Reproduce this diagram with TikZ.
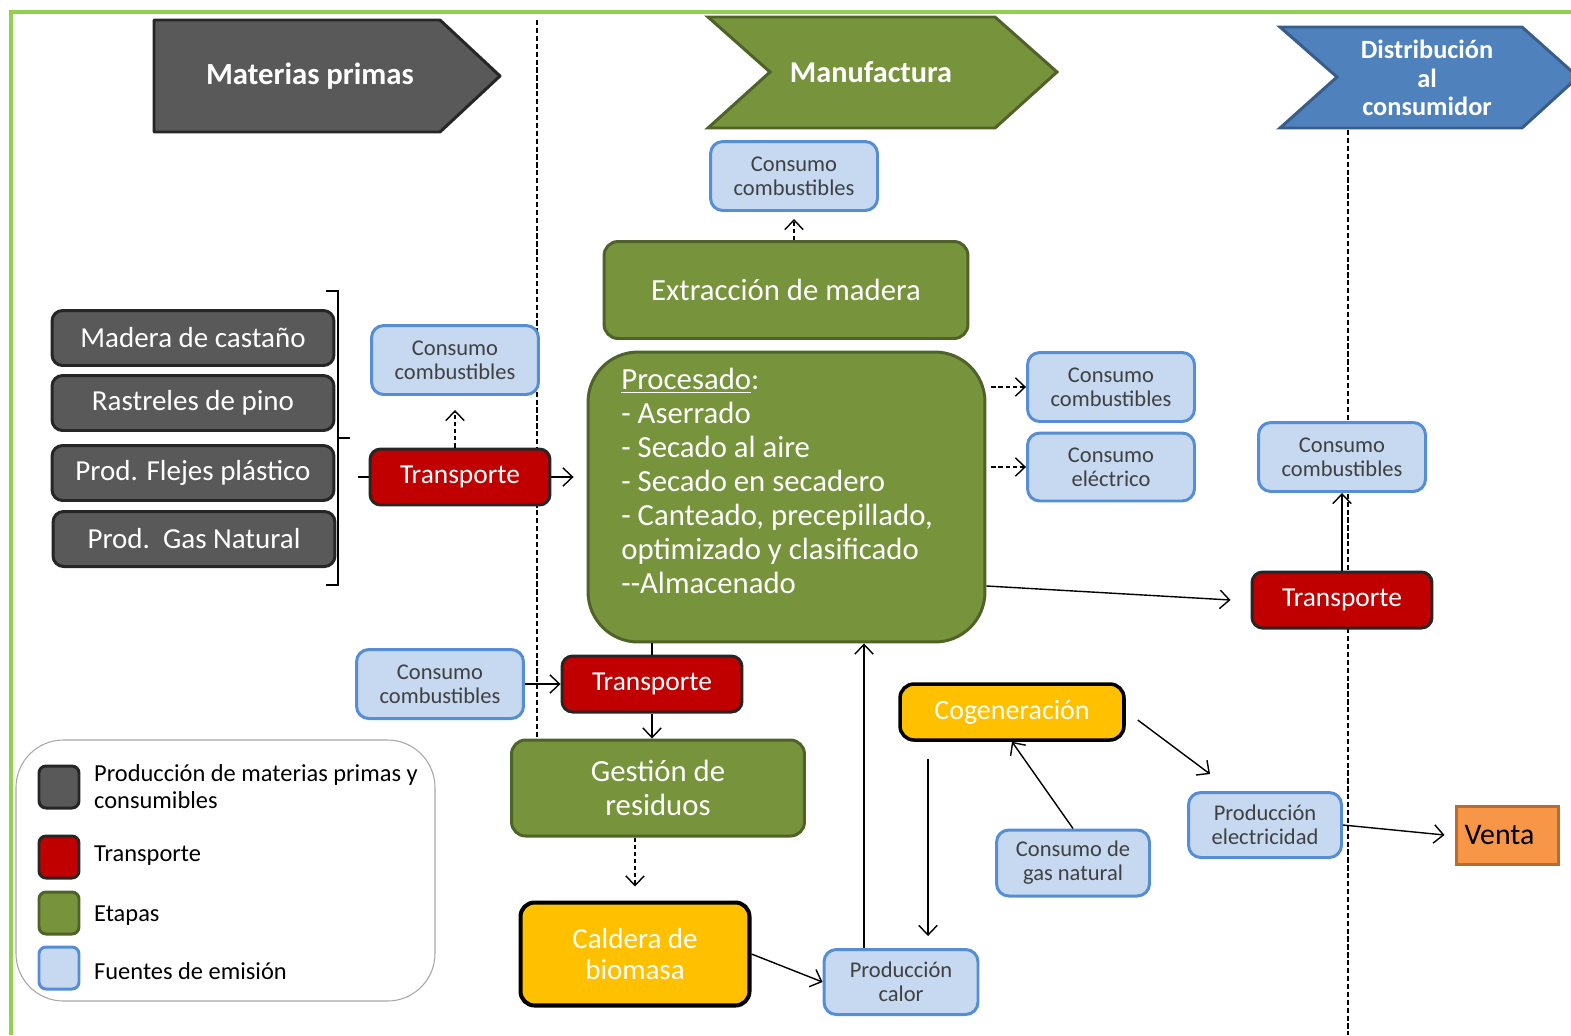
\documentclass[tikz,border=0pt]{standalone}
\usepackage{fontspec}
\setmainfont{Carlito}
\usetikzlibrary{arrows.meta}

\definecolor{framegreen}{HTML}{92D050}
\definecolor{mpgray}{HTML}{595959}
\definecolor{mpborder}{HTML}{262626}
\definecolor{etgreen}{HTML}{77933C}
\definecolor{etborder}{HTML}{4F6228}
\definecolor{distblue}{HTML}{4F81BD}
\definecolor{distborder}{HTML}{385D8A}
\definecolor{trred}{HTML}{C00000}
\definecolor{emfill}{HTML}{C6D9F1}
\definecolor{emborder}{HTML}{558ED5}
\definecolor{emtext}{HTML}{404040}
\definecolor{cgyellow}{HTML}{FFC000}
\definecolor{vorange}{HTML}{F79646}
\definecolor{vborder}{HTML}{B66D31}

\begin{document}
\begin{tikzpicture}[x=0.02cm, y=-0.02cm,
    matbox/.style={draw=mpborder, fill=mpgray, line width=1.7pt, rounded corners=6pt, text=white,
      font=\fontsize{16.5}{18}\selectfont, minimum width=5.64cm, minimum height=1.1cm},
    transbox/.style={draw=mpborder, fill=trred, line width=1.7pt, rounded corners=6pt, text=white,
      font=\fontsize{15.6}{17}\selectfont, minimum width=3.6cm, minimum height=1.12cm},
    etapa/.style={draw=etborder, fill=etgreen, line width=1.7pt, rounded corners=8pt, text=white,
      align=center, font=\fontsize{17.5}{19.3}\selectfont},
    emis/.style={draw=emborder, fill=emfill, line width=1.7pt, rounded corners=7pt, text=emtext,
      align=center, font=\fontsize{12.8}{13.6}\selectfont, minimum width=3.34cm, minimum height=1.38cm},
    calor/.style={draw=black, fill=cgyellow, line width=2pt, rounded corners=8pt, text=white, align=center},
    flow/.style={-{Straight Barb[length=5.5pt,width=10.5pt]}, line width=0.8pt},
    emit/.style={flow, dash pattern=on 2.5pt off 1.5pt},
    lane/.style={dash pattern=on 3pt off 1.5pt, line width=0.7pt},
    header/.style={text=white, font=\bfseries\fontsize{17.5}{19.3}\selectfont, align=center},
    leg/.style={anchor=west, align=left, font=\fontsize{13.9}{15.3}\selectfont},
    legbox/.style={minimum width=0.8cm, minimum height=0.84cm, rounded corners=4pt}
  ]
  \useasboundingbox (0,0) rectangle (1571,1035);

  % frame and lanes
  \draw[framegreen, line width=2.8pt] (11,1035) -- (11,12) -- (1571,12);
  \draw[lane] (537,20) -- (537,738);
  \draw[lane] (1348,130) -- (1348,1035);

  % stage headers
  \draw[fill=mpgray, draw=mpborder, line width=1.7pt, line join=round]
    (154,20) -- (440,20) -- (500,76) -- (440,132) -- (154,132) -- cycle;
  \node[header] (hmat) at (310,76) {Materias primas};
  \draw[fill=etgreen, draw=etborder, line width=1.7pt]
    (708,17) -- (995,17) -- (1057,72) -- (995,128) -- (708,128) -- (770,72) -- cycle;
  \node[header, font=\bfseries\fontsize{17.2}{19}\selectfont] (hman) at (871,72) {Manufactura};
  \draw[fill=distblue, draw=distborder, line width=1.7pt]
    (1280,27) -- (1522,27) -- (1578,77) -- (1522,128) -- (1280,128) -- (1337,77) -- cycle;
  \node[header, font=\bfseries\fontsize{15}{16.4}\selectfont] (hdis) at (1427,78) {Distribución\\al\\consumidor};

  % raw materials
  \node[matbox] (madera) at (193,338) {Madera de castaño};
  \node[matbox] (pino) at (193,403) {Rastreles de pino};
  \node[matbox] (flejes) at (193,473) {Prod. Flejes plástico};
  \node[matbox] (gas) at (194,539) {Prod.\ \ Gas Natural};
  \draw[line width=0.8pt] (326,291) -- (338,291) -- (338,585) -- (326,585);
  \draw[line width=0.8pt] (338,438) -- (350,438);

  % manufacturing
  \node[transbox] (tr1) at (460,477) {Transporte};
  \node[emis] (cons1) at (455,360) {Consumo\\combustibles};
  \node[emis] (ctop) at (794,176) {Consumo\\combustibles};
  \node[etapa, minimum width=7.28cm, minimum height=1.94cm] (extr) at (786,290) {Extracción de madera};
  \node[etapa, rounded corners=1cm, minimum width=7.94cm, minimum height=5.8cm] (proc) at (786.5,497) {};
  \node[anchor=north west, inner sep=0pt, align=left, text=white,
    font=\fontsize{17.5}{19.3}\selectfont] (proctxt) at (621,368)
    {\underline{Procesado}:\\- Aserrado\\- Secado al aire\\- Secado en secadero\\- Canteado, precepillado,\\optimizado y clasificado\\{-}{-}Almacenado};
  \node[emis] (cr1) at (1111,387) {Consumo\\combustibles};
  \node[emis, minimum height=1.36cm] (celec) at (1111,467) {Consumo\\eléctrico};
  \node[transbox] (tr2) at (652,684) {Transporte};
  \node[emis] (clow) at (440,684) {Consumo\\combustibles};
  \node[etapa, minimum width=5.86cm, minimum height=1.92cm] (gest) at (658,788) {Gestión de\\residuos};
  \node[calor, line width=2.3pt, minimum width=4.58cm, minimum height=2.06cm,
    font=\fontsize{16.5}{18.1}\selectfont] (cald) at (635,954) {Caldera de\\biomasa};
  \node[emis, minimum width=3.08cm, minimum height=1.3cm] (pcalor) at (901,982) {Producción\\calor};
  \node[calor, minimum width=4.48cm, minimum height=1.12cm,
    font=\fontsize{15.9}{17}\selectfont] (cogen) at (1012,712) {Cogeneración};
  \node[emis, minimum width=3.06cm, minimum height=1.32cm] (gasnat) at (1073,863) {Consumo de\\gas natural};
  \node[emis, minimum width=3.06cm, minimum height=1.3cm] (pelec) at (1265,825) {Producción\\electricidad};

  % distribution
  \node[transbox] (tr3) at (1342,600) {Transporte};
  \node[emis] (cr2) at (1342,457) {Consumo\\combustibles};
  \node[draw=vborder, fill=vorange, line width=1.7pt, minimum width=2.04cm, minimum height=1.16cm,
    font=\fontsize{17}{19}\selectfont] (venta) at (1507,835) {\hspace*{-0.3cm}Venta};

  % connectors
  \coordinate (stub) at (358,477);
  \draw[line width=0.8pt] (stub) -- (tr1);
  \draw[flow, shorten >=0.26cm] (tr1.east) -- (tr1.east -| proc.west);
  \draw[emit, shorten >=0.28cm] (tr1.north -| cons1) -- (cons1);
  \draw[emit, shorten >=0.14cm] (extr.north -| ctop) -- (ctop);
  \draw[emit, shorten <=0.1cm] (proc.east |- cr1) -- (cr1);
  \draw[emit, shorten <=0.1cm] (proc.east |- celec) -- (celec);
  \draw[flow] ([yshift=-1.78cm]proc.east) -- ([xshift=-0.4cm]tr3.west);
  \draw[flow] (tr3) -- (cr2);
  \draw[line width=0.8pt] (proc.south -| tr2) -- (tr2);
  \draw[flow] (clow) -- (tr2);
  \draw[flow] (tr2.south) -- (tr2.south |- gest.north);
  \draw[emit, shorten >=0.28cm] (gest.south -| cald) -- (cald);
  \draw[flow] (cald.east) -- (pcalor.west);
  \draw[flow] ([xshift=-0.74cm]pcalor.north) -- ([xshift=-0.74cm]pcalor.north |- proc.south);
  \draw[flow, shorten <=0.34cm, shorten >=0.24cm] ([xshift=-1.68cm]cogen.south) -- ([xshift=-1.68cm]cogen.south |- pcalor.north);
  \draw[flow] (gasnat.north) -- (cogen.south);
  \draw[flow] ([shift={(0.24cm,-0.16cm)}]cogen.east) -- ([shift={(-1.1cm,0.34cm)}]pelec.north);
  \draw[flow] (pelec.east) -- ([xshift=-0.2cm]venta.west);

  % legend
  \draw[gray!70, line width=0.6pt, rounded corners=0.95cm] (16,740) rectangle (435,1001);
  \node[matbox, legbox] (lg1) at (59,787) {};
  \node[transbox, legbox] (lg2) at (59,857) {};
  \node[etapa, legbox] (lg3) at (59,913) {};
  \node[emis, legbox] (lg4) at (59,968) {};
  \node[leg] (lt1) at (88,787) {Producción de materias primas y\\consumibles};
  \node[leg] (lt2) at (88,856) {Transporte};
  \node[leg] (lt3) at (88,916) {Etapas};
  \node[leg] (lt4) at (88,971) {Fuentes de emisión};
\end{tikzpicture}
\end{document}
